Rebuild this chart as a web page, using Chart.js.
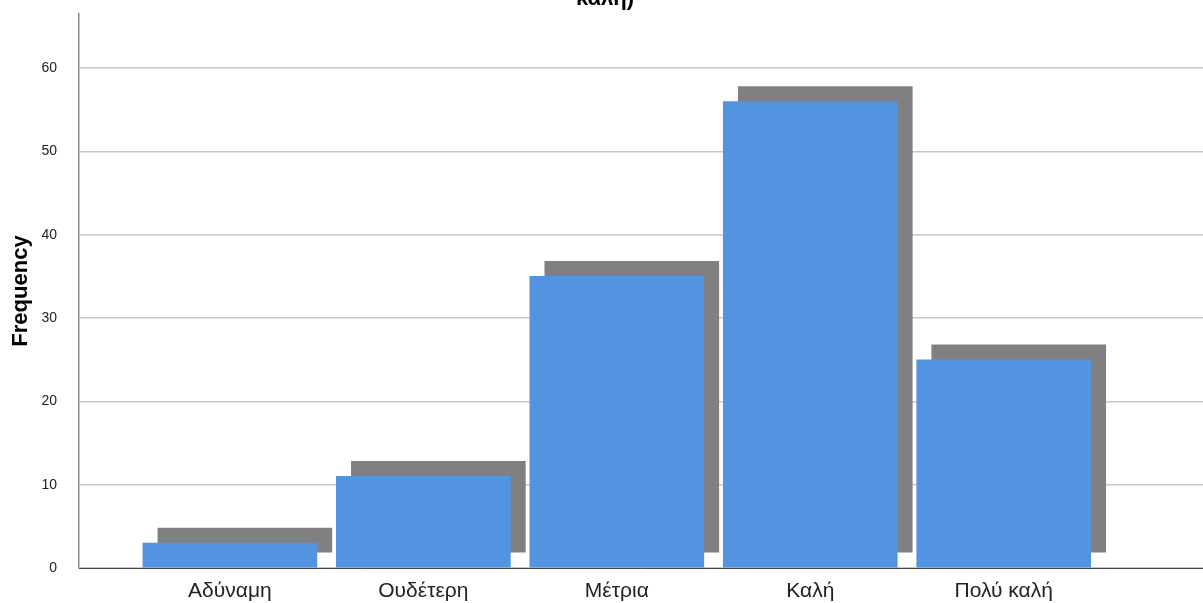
<!DOCTYPE html>
<html>
<head>
<meta charset="utf-8">
<script src="https://cdn.jsdelivr.net/npm/chart.js@4.4.1/dist/chart.umd.min.js"></script>
<style>
  html, body { margin: 0; padding: 0; background: #ffffff; }
  #wrap { width: 1203px; height: 603px; }
  canvas { display: block; }
</style>
</head>
<body>
<div id="wrap"><canvas id="chart" width="1203" height="603"></canvas></div>
<script>
// Rating categories and their counts
const categories = ['Αδύναμη', 'Ουδέτερη', 'Μέτρια', 'Καλή', 'Πολύ καλή'];
const frequencies = [3, 11, 35, 56, 25];
const yTicks = [0, 10, 20, 30, 40, 50, 60];
const titleTail = 'καλή)';
const yAxisTitle = 'Frequency';

const FONT = "'Liberation Sans', Arial, sans-serif";

// Drop shadow behind each bar (solid grey copy, shifted right and up)
const barShadow = {
  id: 'barShadow',
  beforeDatasetDraw(chart) {
    const ctx = chart.ctx;
    ctx.save();
    ctx.shadowColor = '#808080';
    ctx.shadowBlur = 0;
    ctx.shadowOffsetX = 15;
    ctx.shadowOffsetY = -15;
  },
  afterDatasetDraw(chart) {
    chart.ctx.restore();
  }
};

// Last line of the chart title, partly above the canvas edge
const titleLine = {
  id: 'titleLine',
  afterDraw(chart) {
    const ctx = chart.ctx;
    ctx.save();
    ctx.font = "bold 22px " + FONT;
    ctx.fillStyle = '#000000';
    ctx.textAlign = 'center';
    ctx.textBaseline = 'alphabetic';
    ctx.fillText(titleTail, 605, 5);
    ctx.restore();
  }
};

new Chart(document.getElementById('chart'), {
  type: 'bar',
  data: {
    datasets: [{
      data: frequencies.map((v, i) => ({ x: i, y: v })),
      backgroundColor: '#5294e2',
      borderWidth: 0,
      barThickness: 174
    }]
  },
  options: {
    responsive: false,
    animation: false,
    layout: { padding: { top: 14, left: 0, right: 0, bottom: 0 } },
    plugins: {
      legend: { display: false },
      tooltip: { enabled: false },
      title: { display: false }
    },
    scales: {
      x: {
        type: 'linear',
        offset: false,
        min: -0.78,
        max: 5.03,
        afterBuildTicks(scale) {
          scale.ticks = categories.map((_, i) => ({ value: i }));
        },
        afterFit(scale) {
          scale.height = 35;
          scale.paddingLeft = 0;
          scale.paddingRight = 0;
        },
        grid: { display: false, drawTicks: false },
        border: { display: true, color: '#444444', width: 1 },
        ticks: {
          padding: 11,
          color: '#222222',
          maxRotation: 0,
          autoSkip: false,
          font: { family: FONT, size: 21 },
          callback: (value) => categories[value] ?? ''
        }
      },
      y: {
        type: 'linear',
        min: 0,
        max: 66.5,
        afterBuildTicks(scale) {
          scale.ticks = yTicks.map(v => ({ value: v }));
        },
        afterFit(scale) {
          scale.width = 79;
          scale.paddingTop = 0;
          scale.paddingBottom = 0;
        },
        grid: { color: '#c8c8c8', lineWidth: 1.5, drawTicks: false },
        border: { display: true, color: '#8c8c8c', width: 1.5 },
        ticks: {
          padding: 22,
          color: '#222222',
          font: { family: FONT, size: 14 }
        },
        title: {
          display: true,
          text: yAxisTitle,
          color: '#000000',
          font: { family: FONT, size: 22, weight: 'bold' },
          padding: { top: 8, bottom: 0 }
        }
      }
    }
  },
  plugins: [barShadow, titleLine]
});
</script>
</body>
</html>
